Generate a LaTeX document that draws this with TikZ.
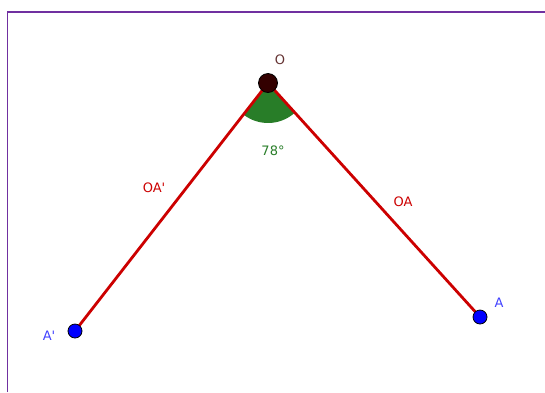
\documentclass[tikz,border=0pt]{standalone}
\usepackage{fontspec}
\setmainfont{DejaVu Sans}[Ligatures=TeXOff]
\definecolor{frame}{RGB}{112,48,160}
\definecolor{segred}{RGB}{204,0,0}
\definecolor{anggreen}{RGB}{40,125,40}
\definecolor{ptblue}{RGB}{0,0,255}
\definecolor{lblblue}{RGB}{64,64,255}
\definecolor{obrown}{RGB}{51,0,0}
\definecolor{olabel}{RGB}{100,50,50}
\tikzset{
  seg/.style={draw=segred, line width=2.8pt},
  bluept/.style={circle, fill=ptblue, draw=black, line width=0.8pt, inner sep=0pt, minimum size=14pt},
  opt/.style={circle, fill=obrown, draw=black, line width=0.8pt, inner sep=0pt, minimum size=19pt},
  lbl/.style={font=\fontsize{13}{15}\selectfont, inner sep=0pt},
}
\begin{document}
\begin{tikzpicture}[x=1pt,y=-1pt]
\useasboundingbox (0,0) rectangle (545,392);
\draw[frame, line width=1.8pt] (7.5,392) -- (7.5,12) -- (545,12);
\coordinate (O) at (268,83);
\coordinate (A) at (480,317);
\coordinate (Ap) at (75,331);
% angle sector
\fill[anggreen] (O) -- ++(47.8:40) arc[start angle=47.8, end angle=127.9, radius=40] -- cycle;
\draw[seg] (O) -- (A);
\draw[seg] (O) -- (Ap);
\node[opt] (Odot) at (O) {};
\node[bluept] (Adot) at (A) {};
\node[bluept] (Apdot) at (Ap) {};
\node[lbl, text=olabel] (Olbl) at (280,60) {O};
\node[lbl, text=anggreen] (ang) at (273,151) {78°};
\node[lbl, text=segred] (oap) at (154,188) {OA'};
\node[lbl, text=segred] (oa) at (403,202) {OA};
\node[lbl, text=lblblue] (Albl) at (499,303) {A};
\node[lbl, text=lblblue] (Aplbl) at (49,336) {A'};
\end{tikzpicture}
\end{document}
